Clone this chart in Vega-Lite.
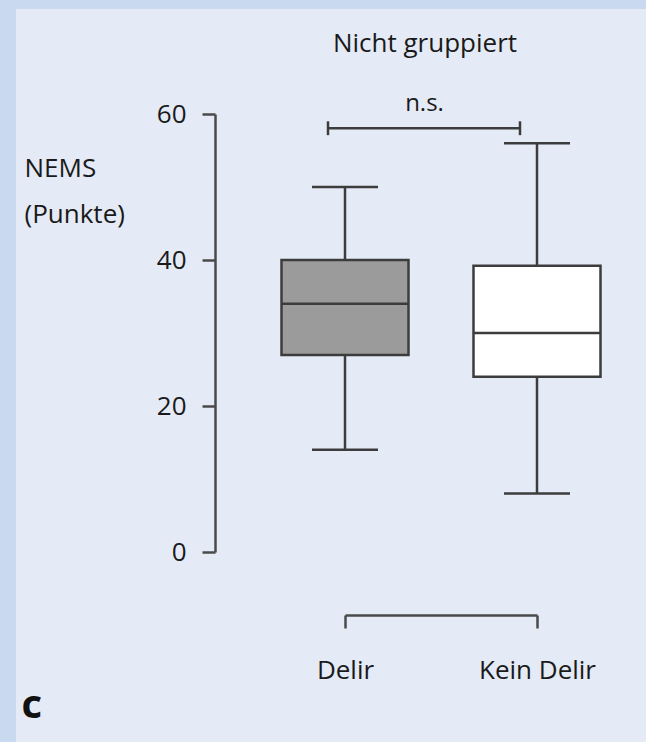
{
  "$schema": "https://vega.github.io/schema/vega-lite/v6.json",
  "padding": 0,
  "background": "#e4eaf6",
  "config": {
    "view": {"stroke": null},
    "font": "Open Sans",
    "text": {"font": "Open Sans"},
    "tick": {"opacity": 1},
    "axis": {"labelFont": "Open Sans", "titleFont": "Open Sans", "grid": false}
  },
  "hconcat": [
    {
      "width": 16,
      "height": 742,
      "view": {"fill": "#c9daf0", "stroke": null},
      "data": {"values": []},
      "mark": "text",
      "encoding": {}
    },
    {
      "vconcat": [
        {
          "width": 630,
          "height": 9,
          "view": {"fill": "#c9daf0", "stroke": null},
          "data": {"values": []},
          "mark": "text",
          "encoding": {}
        },
        {
          "hconcat": [
            {
              "width": 1,
              "height": 1,
              "data": {"values": []},
              "mark": "text",
              "encoding": {}
            },
            {
              "width": 192,
              "height": 438,
              "title": {
                "text": "Nicht gruppiert",
                "frame": "group",
                "anchor": "middle",
                "dx": -16,
                "fontSize": 26,
                "fontWeight": "normal",
                "font": "Open Sans",
                "color": "#1a1a1a",
                "baseline": "alphabetic",
                "offset": 14
              },
              "data": {"values": [
                {"group": "Delir", "min": 14, "q1": 27, "median": 34, "q3": 40, "max": 50},
                {"group": "Kein Delir", "min": 8, "q1": 24, "median": 30, "q3": 39.2, "max": 56}
              ]},
              "layer": [
                {
                  "mark": {"type": "rule", "color": "#3c3c3c", "strokeWidth": 2.5},
                  "encoding": {
                    "x": {
                      "field": "group",
                      "type": "nominal",
                      "sort": ["Delir", "Kein Delir"],
                      "scale": {"type": "point", "padding": 0},
                      "axis": {
                        "orient": "bottom",
                        "offset": 63,
                        "domainColor": "#4a4a4a",
                        "domainWidth": 2.5,
                        "tickColor": "#4a4a4a",
                        "tickWidth": 2.5,
                        "tickSize": 13,
                        "labelFontSize": 26,
                        "labelColor": "#1a1a1a",
                        "labelPadding": 29,
                        "labelAngle": 0,
                        "title": "c",
                        "titleFontSize": 40,
                        "titleFontWeight": "bold",
                        "titleColor": "#111111",
                        "titleAlign": "left",
                        "titleBaseline": "alphabetic",
                        "titleX": -324,
                        "titleY": 102
                      }
                    },
                    "y": {
                      "field": "min",
                      "type": "quantitative",
                      "scale": {"domain": [0, 60], "nice": false},
                      "axis": {
                        "orient": "left",
                        "offset": 130,
                        "values": [0, 20, 40, 60],
                        "domainColor": "#4a4a4a",
                        "domainWidth": 2.5,
                        "tickColor": "#4a4a4a",
                        "tickWidth": 2.5,
                        "tickSize": 13,
                        "labelFontSize": 26,
                        "labelColor": "#1a1a1a",
                        "labelPadding": 16,
                        "title": ["NEMS", "(Punkte)"],
                        "titleAngle": 0,
                        "titleAlign": "left",
                        "titleBaseline": "alphabetic",
                        "titleX": -191,
                        "titleY": 62,
                        "titleLineHeight": 46,
                        "titleFontSize": 26,
                        "titleFontWeight": "normal",
                        "titleColor": "#1a1a1a"
                      }
                    },
                    "y2": {"field": "max"}
                  }
                },
                {
                  "mark": {"type": "tick", "color": "#3c3c3c", "thickness": 2.5, "size": 66, "orient": "horizontal"},
                  "encoding": {
                    "x": {"field": "group", "type": "nominal"},
                    "y": {"field": "min", "type": "quantitative"}
                  }
                },
                {
                  "mark": {"type": "tick", "color": "#3c3c3c", "thickness": 2.5, "size": 66, "orient": "horizontal"},
                  "encoding": {
                    "x": {"field": "group", "type": "nominal"},
                    "y": {"field": "max", "type": "quantitative"}
                  }
                },
                {
                  "mark": {"type": "bar", "size": 127, "stroke": "#3c3c3c", "strokeWidth": 2.5},
                  "encoding": {
                    "x": {"field": "group", "type": "nominal"},
                    "y": {"field": "q1", "type": "quantitative"},
                    "y2": {"field": "q3"},
                    "fill": {
                      "field": "group",
                      "type": "nominal",
                      "scale": {"domain": ["Delir", "Kein Delir"], "range": ["#9b9b9b", "#ffffff"]},
                      "legend": null
                    }
                  }
                },
                {
                  "mark": {"type": "tick", "color": "#3c3c3c", "thickness": 2.5, "size": 127, "orient": "horizontal"},
                  "encoding": {
                    "x": {"field": "group", "type": "nominal"},
                    "y": {"field": "median", "type": "quantitative"}
                  }
                },
                {
                  "data": {"values": [{"from": "Delir", "to": "Kein Delir", "level": 58.05}]},
                  "mark": {"type": "rule", "color": "#3c3c3c", "strokeWidth": 2.5, "xOffset": -17, "x2Offset": -17},
                  "encoding": {
                    "x": {"field": "from", "type": "nominal"},
                    "x2": {"field": "to"},
                    "y": {"field": "level", "type": "quantitative"}
                  }
                },
                {
                  "data": {"values": [
                    {"group": "Delir", "lo": 57.1, "hi": 59.0},
                    {"group": "Kein Delir", "lo": 57.1, "hi": 59.0}
                  ]},
                  "mark": {"type": "rule", "color": "#3c3c3c", "strokeWidth": 2.5, "xOffset": -17},
                  "encoding": {
                    "x": {"field": "group", "type": "nominal"},
                    "y": {"field": "lo", "type": "quantitative"},
                    "y2": {"field": "hi"}
                  }
                },
                {
                  "data": {"values": [{"from": "Delir", "label": "n.s.", "labelLevel": 60.4}]},
                  "mark": {"type": "text", "dx": 79.5, "fontSize": 24, "color": "#1a1a1a", "baseline": "alphabetic", "align": "center", "font": "Open Sans"},
                  "encoding": {
                    "x": {"field": "from", "type": "nominal"},
                    "y": {"field": "labelLevel", "type": "quantitative"},
                    "text": {"field": "label"}
                  }
                }
              ]
            }
          ],
          "spacing": 328,
          "bounds": "flush"
        }
      ],
      "spacing": 105,
      "bounds": "flush"
    }
  ],
  "spacing": 0,
  "bounds": "flush"
}
